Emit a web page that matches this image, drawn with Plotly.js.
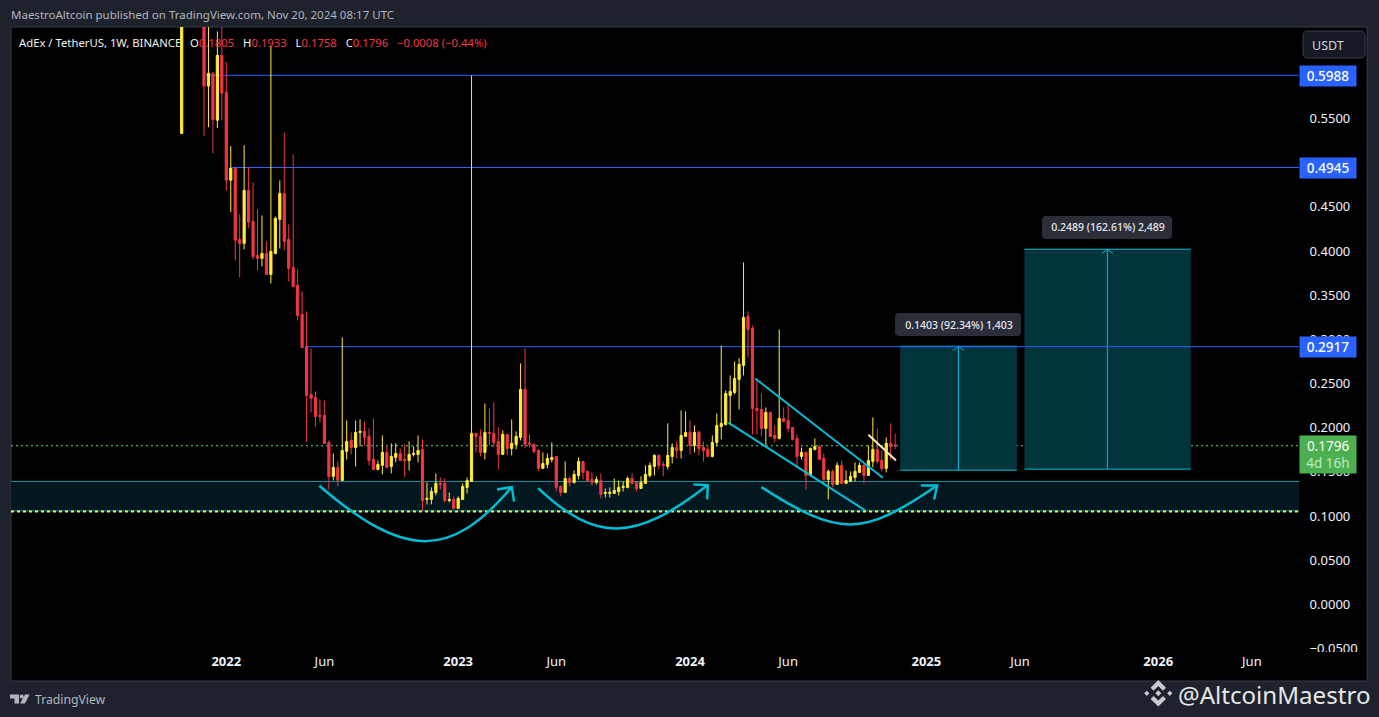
<!DOCTYPE html>
<html>
<head>
<meta charset="utf-8">
<script src="https://cdn.plot.ly/plotly-3.0.1.min.js"></script>
<style>html,body{margin:0;padding:0;background:#1e222d;}#chart{width:1379px;height:717px;}</style>
</head>
<body>
<div id="chart"></div>
<script>
// ---- candle values (weekly ADX/USDT) ----
const opens = [.533,
.74,.5866,.6010,.5481,.6214,.5795,.4802,.4935,.4131,.4086,.4686,.4335,.3950,.3916,.3973,.3735,.3973,.4358,.4652,.4131,
.3814,.3611,.3283,.2920,.2377,.2343,.2140,.2140,.1834,.1449,.1551,.1403,.1732,.1856,.1777,.1947,.1958,.1902,.1641,.1528,
.1574,.1721,.1562,.1664,.1709,.1641,.1630,.1698,.1698,.1755,.1189,.1189,.1268,.1370,.1370,.1177,.1189,.1087,.1189,.1325,
.1392,.1936,.1902,.1721,.1947,.1936,.1845,.1698,.1924,.1766,.1811,.1890,.2434,.1823,.1811,.1743,.1540,.1585,.1641,.1675,
.1336,.1268,.1426,.1381,.1460,.1619,.1506,.1415,.1381,.1403,.1257,.1257,.1257,.1279,.1325,.1325,.1426,.1381,.1313,.1370,
.1460,.1562,.1687,.1585,.1562,.1675,.1777,.1743,.1902,.1947,.1800,.1947,.1777,.1755,.1675,.1834,.2015,.2037,.2366,.2400,
.2547,.2705,.3260,.3124,.2219,.2207,.1992,.2173,.1913,.1879,.2105,.2083,.2004,.1879,.1675,.1721,.1460,.1755,.1789,.1653,
.1415,.1506,.1358,.1574,.1370,.1392,.1438,.1494,.1574,.1460,.1619,.1755,.1630,.1540,.1823,.1805];
const highs = [.72,
.80,.72,.6025,.6485,.70,.6138,.5187,.4957,.4414,.5195,.4946,.4776,.4471,.4403,.4109,.6327,.4392,.4799,.5342,.4301,
.5093,.3792,.3543,.3316,.2898,.2411,.2320,.2309,.1856,.1709,.1619,.3022,.2083,.1947,.2083,.2094,.2072,.1992,.2106,.1630,
.1913,.1800,.1823,.1823,.1766,.1811,.1845,.1789,.1913,.1868,.1381,.1325,.1483,.1438,.1426,.1268,.1223,.1223,.1370,.1438,
.5987,.1936,.1981,.2275,.2219,.2287,.2004,.1969,.1924,.2094,.1958,.2728,.2898,.1924,.1823,.1755,.1721,.1709,.1834,.1675,
.1347,.1619,.1449,.1517,.1664,.1619,.1517,.1494,.1449,.1483,.1313,.1325,.1426,.1403,.1392,.1449,.1483,.1392,.1449,.1574,
.1608,.1698,.1698,.1619,.2049,.1823,.1845,.2196,.2185,.2083,.2026,.1969,.1845,.1789,.1913,.2162,.2932,.2422,.2592,.2750,
.2785,.3871,.3316,.3158,.2536,.2388,.2230,.2185,.2026,.3113,.2230,.2264,.2004,.1924,.1777,.1732,.1777,.1879,.1800,.1709,
.1528,.1528,.1608,.1630,.1517,.1506,.1608,.1608,.1585,.1800,.2117,.1992,.1743,.1890,.2049,.1933];
const lows = [.533,
.5300,.5402,.5108,.5391,.5478,.4686,.4440,.3894,.3705,.4018,.4259,.3905,.3780,.3826,.3735,.3633,.3961,.4029,.4007,.3656,
.3588,.3215,.2898,.1837,.2173,.2015,.2060,.1823,.1302,.1403,.1336,.1403,.1641,.1698,.1562,.1789,.1800,.1574,.1517,.1517,
.1472,.1540,.1483,.1608,.1630,.1438,.1517,.1675,.1608,.1064,.1132,.1132,.1234,.1302,.1155,.1155,.1075,.1087,.1189,.1257,
.1392,.1721,.1675,.1641,.1800,.1777,.1528,.1698,.1687,.1687,.1755,.1856,.1766,.1777,.1709,.1506,.1540,.1540,.1608,.1279,
.1223,.1268,.1336,.1370,.1415,.1415,.1392,.1347,.1358,.1200,.1211,.1211,.1257,.1234,.1279,.1313,.1358,.1279,.1313,.1370,
.1438,.1460,.1528,.1449,.1528,.1596,.1653,.1653,.1902,.1698,.1721,.1687,.1619,.1675,.1664,.1789,.1868,.2026,.2026,.2377,
.2207,.2592,.2796,.1924,.1924,.1902,.1800,.1902,.1834,.1868,.2060,.1947,.1856,.1540,.1641,.1302,.1449,.1743,.1641,.1370,
.1189,.1325,.1358,.1370,.1370,.1392,.1392,.1494,.1370,.1460,.1551,.1596,.1506,.1494,.1641,.1758];
const closes = [.72,
.5866,.6010,.5489,.6214,.5787,.4802,.4938,.4123,.4086,.4686,.4327,.3939,.3916,.3973,.3735,.3995,.4369,.4652,.4109,.3803,
.3599,.3271,.2909,.2366,.2332,.2128,.2128,.1823,.1449,.1551,.1403,.1743,.1845,.1777,.1947,.1958,.1890,.1630,.1528,.1585,
.1721,.1551,.1675,.1709,.1630,.1630,.1698,.1709,.1743,.1177,.1200,.1279,.1370,.1358,.1177,.1189,.1087,.1200,.1336,.1403,
.1936,.1902,.1721,.1947,.1936,.1834,.1698,.1924,.1766,.1823,.1902,.2434,.1811,.1811,.1732,.1540,.1596,.1653,.1664,.1325,
.1268,.1426,.1381,.1472,.1619,.1494,.1403,.1381,.1415,.1245,.1268,.1268,.1291,.1325,.1336,.1426,.1370,.1313,.1381,.1472,
.1574,.1687,.1574,.1574,.1687,.1777,.1743,.1913,.1947,.1800,.1947,.1766,.1743,.1675,.1834,.2026,.2049,.2388,.2411,.2558,
.2717,.3248,.3113,.2219,.2196,.1992,.2173,.1902,.1879,.2105,.2072,.1992,.1868,.1675,.1721,.1460,.1766,.1789,.1641,.1415,
.1506,.1358,.1574,.1370,.1403,.1449,.1506,.1574,.1460,.1630,.1755,.1619,.1540,.1823,.1789,.1796];

// ---- axis labels ----
const priceTicks = [-0.05,0,0.05,0.1,0.15,0.2,0.25,0.3,0.35,0.4,0.45,0.5,0.55];
const priceTickText = ['\u22120.0500','0.0000','0.0500','0.1000','0.1500','0.2000','0.2500','0.3000','0.3500','0.4000','0.4500','0.5000','0.5500'];
const timeTicks = ['2022-01-03','2022-06-06','2023-01-02','2023-06-05','2024-01-01','2024-06-03','2025-01-06','2025-06-02','2026-01-05','2026-06-01'];
const timeTickText = ['<b>2022</b>','Jun','<b>2023</b>','Jun','<b>2024</b>','Jun','<b>2025</b>','Jun','<b>2026</b>','Jun'];

// ---- drawings: weeks since 2022-01-03, and price ----
// curved arrows: start, two control points, end
const curve1Week = [20.86,40.09,50.18,64.02];
const curve1Price = [.1344,.0510,.0510,.1328];
const head1Week = [60.72,64.02,64.54];
const head1Price = [.1302,.1328,.1166];
const curve2Week = [69.92,82.93,91.45,107.99];
const curve2Price = [.1317,.0702,.0702,.1351];
const head2Week = [104.76,107.99,107.83];
const head2Price = [.1358,.1351,.1189];
const curve3Week = [120.0,137.44,142.51,159.42];
const curve3Price = [.1328,.0762,.0762,.1347];
const head3Week = [155.76,159.42,158.75];
const head3Price = [.1347,.1347,.1189];
const channelUpperWeek = [118.6,147.24], channelUpperPrice = [.2558,.1434];
const channelLowerWeek = [112.6,143.27], channelLowerPrice = [.2057,.1064];
const breakWeek = [144.0,150.2], breakPrice = [.1921,.1630];
const target1 = {w0:151.12,w1:177.3,mid:164.2,p0:.1519,p1:.2922};
const target2 = {w0:179.0,w1:216.3,mid:197.6,p0:.1531,p1:.4020};
const levels = [{p:.5988,w:-4.55},{p:.4945,w:1.28},{p:.2917,w:18.1}];
const lastPrice = .1796, zoneTop = .1392, zoneBottom = .1059, zoneDash = .1053;

// ---- geometry helpers ----
const L=11,R=1299,T=27,B=652;
const fx=p=>(p-L)/(R-L), fy=p=>(B-p)/(B-T);
const DAY=864e5, base=Date.UTC(2022,0,3);
const wk=n=>new Date(base+n*7*DAY).toISOString();
const xStart='2021-01-30', xEnd='2026-08-14';

const dates=['2021-10-25'];
for(let i=0;i<156;i++){dates.push(new Date(Date.UTC(2021,10,29)+i*7*DAY).toISOString().slice(0,10));}

const TEAL='#00bcd4', BLUE='#2962ff', FONT='"Noto Sans", sans-serif';
const lineTrace=(w,p,color,width)=>({type:'scatter',mode:'lines',x:w.map(wk),y:p,hoverinfo:'skip',showlegend:false,line:{color,width}});

const data=[
 {type:'candlestick',x:dates,open:opens,high:highs,low:lows,close:closes,showlegend:false,hoverinfo:'skip',whiskerwidth:0,
  increasing:{line:{color:'#ffeb3b',width:1},fillcolor:'#ffeb3b'},
  decreasing:{line:{color:'#f23645',width:1},fillcolor:'#f23645'}},
 lineTrace(head1Week,head1Price,TEAL,2.5),
 lineTrace(head2Week,head2Price,TEAL,2.5),
 lineTrace(head3Week,head3Price,TEAL,2.5),
 lineTrace(channelUpperWeek,channelUpperPrice,TEAL,2),lineTrace(channelLowerWeek,channelLowerPrice,TEAL,2),
 lineTrace(breakWeek,breakPrice,'#ffe8c2',2)
];

// pixel-path helpers for page furniture
const P=(pts)=>'M'+pts.map(q=>fx(q[0])+','+fy(q[1])).join('L')+'Z';
const rr=(x0,y0,x1,y1,r)=>`M${fx(x0+r)},${fy(y0)}L${fx(x1-r)},${fy(y0)}Q${fx(x1)},${fy(y0)} ${fx(x1)},${fy(y0+r)}L${fx(x1)},${fy(y1-r)}Q${fx(x1)},${fy(y1)} ${fx(x1-r)},${fy(y1)}L${fx(x0+r)},${fy(y1)}Q${fx(x0)},${fy(y1)} ${fx(x0)},${fy(y1-r)}L${fx(x0)},${fy(y0+r)}Q${fx(x0)},${fy(y0)} ${fx(x0+r)},${fy(y0)}Z`;
const pathShape=(path,fill,layer,line)=>({type:'path',xref:'paper',yref:'paper',path,fillcolor:fill,layer:layer||'above',line:line||{width:0}});
const circ=(cx,cy,r)=>`M${fx(cx-r)},${fy(cy)}Q${fx(cx-r)},${fy(cy-r)} ${fx(cx)},${fy(cy-r)}Q${fx(cx+r)},${fy(cy-r)} ${fx(cx+r)},${fy(cy)}Q${fx(cx+r)},${fy(cy+r)} ${fx(cx)},${fy(cy+r)}Q${fx(cx-r)},${fy(cy+r)} ${fx(cx-r)},${fy(cy)}Z`;
const diamond=(cx,cy,r)=>P([[cx,cy-r],[cx+r,cy],[cx,cy+r],[cx-r,cy]]);
const dd=n=>wk(n).slice(0,19).replace('T','_');
const bezier=(w,p)=>({type:'path',xref:'x',yref:'y',layer:'above',line:{color:TEAL,width:2.5},
  path:`M${dd(w[0])},${p[0]}C${dd(w[1])},${p[1]} ${dd(w[2])},${p[2]} ${dd(w[3])},${p[3]}`});

const dataLine=(x0,x1,y0,y1,color,width,layer,dash)=>({type:'line',xref:'x',yref:'y',x0,x1,y0,y1,layer:layer||'below',line:{color,width,dash:dash||'solid'}});
const shapes=[];
// pane background
shapes.push({type:'rect',xref:'paper',yref:'paper',x0:fx(11),x1:fx(1367),y0:fy(27),y1:fy(681),fillcolor:'#000',layer:'below',line:{color:'#363a45',width:1}});
// support zone
shapes.push({type:'rect',xref:'paper',yref:'y',x0:0,x1:1,y0:zoneBottom,y1:zoneTop,fillcolor:'#02181e',layer:'below',line:{width:0}});
shapes.push({type:'line',xref:'paper',yref:'y',x0:0,x1:1,y0:zoneTop,y1:zoneTop,layer:'below',line:{color:'#1697a8',width:1}});
shapes.push({type:'line',xref:'paper',yref:'y',x0:0,x1:1,y0:zoneBottom,y1:zoneBottom,layer:'above',line:{color:'#1697a8',width:1}});
shapes.push({type:'line',xref:'paper',yref:'y',x0:0,x1:1,y0:zoneDash,y1:zoneDash,layer:'above',line:{color:'#ffeb3b',width:2,dash:'3px,3px'}});
// curved arrows
shapes.push(bezier(curve1Week,curve1Price),bezier(curve2Week,curve2Price),bezier(curve3Week,curve3Price));
// projection boxes
[target1,target2].forEach(t=>{
  shapes.push({type:'rect',xref:'x',yref:'y',x0:wk(t.w0),x1:wk(t.w1),y0:t.p0,y1:t.p1,fillcolor:'#02343c',layer:'below',line:{width:0}});
  shapes.push(dataLine(wk(t.w0),wk(t.w1),t.p0,t.p0,TEAL,1));
  shapes.push(dataLine(wk(t.w0),wk(t.w1),t.p1,t.p1,TEAL,1));
  shapes.push(dataLine(wk(t.mid),wk(t.mid),t.p0,t.p1,TEAL,1));
  shapes.push(dataLine(wk(t.mid-1.26),wk(t.mid),t.p1-.005,t.p1,TEAL,1));
  shapes.push(dataLine(wk(t.mid+1.26),wk(t.mid),t.p1-.005,t.p1,TEAL,1));
});
// horizontal levels
levels.forEach(l=>shapes.push(dataLine(wk(l.w),xEnd,l.p,l.p,BLUE,1)));
// last price
shapes.push({type:'line',xref:'paper',yref:'y',x0:0,x1:1,y0:lastPrice,y1:lastPrice,layer:'below',line:{color:'#66d966',width:1.2,dash:'2px,3px'}});
// clip of the lowest price label
shapes.push({type:'rect',xref:'paper',yref:'paper',x0:fx(1300),x1:fx(1366),y0:fy(652),y1:fy(660),fillcolor:'#000',layer:'above',line:{width:0}});
// measure tooltips
shapes.push(pathShape(rr(895,313,1021,336,4),'#2a2e39'));
shapes.push(pathShape(rr(1042,216,1172,239,4),'#2a2e39'));
// USDT button
shapes.push(pathShape(rr(1303,31,1365,58,5),'#151924','above',{color:'#3a3e4a',width:1}));
// TradingView mark
shapes.push(pathShape(P([[10,694.5],[19,694.5],[19,703.5],[14.5,703.5],[14.5,698.5],[10,698.5]]),'#b2b5be'));
shapes.push(pathShape(circ(21.7,696.5,2),'#b2b5be'));
shapes.push(pathShape(P([[25,694.5],[29.5,694.5],[25,703.5],[20,703.5]]),'#b2b5be'));
// diamond mark of the watermark
const cx=1158.3, cy=693.3, mk='#c9cbd0';
shapes.push(pathShape(P([[cx,680],[cx+7.7,687.7],[cx+4.7,690.7],[cx,686],[cx-4.7,690.7],[cx-7.7,687.7]]),mk));
shapes.push(pathShape(P([[cx,2*cy-680],[cx+7.7,2*cy-687.7],[cx+4.7,2*cy-690.7],[cx,2*cy-686],[cx-4.7,2*cy-690.7],[cx-7.7,2*cy-687.7]]),mk));
shapes.push(pathShape(diamond(cx,cy,3),mk));
shapes.push(pathShape(diamond(cx-11.5,cy,2.6),mk));
shapes.push(pathShape(diamond(cx+11.5,cy,2.6),mk));

const ann=(px,py,text,size,color,extra)=>Object.assign({xref:'paper',yref:'paper',x:fx(px),y:fy(py),text,showarrow:false,xanchor:'left',yanchor:'middle',borderpad:0,
  font:{family:FONT,size,color}},extra||{});
const red=s=>`<span style="color:#f23645">${s}</span>`;
const gap='\u00a0\u00a0\u00a0';
const priceBox=(py,text)=>ann(1299,py,text,13.5,'#ffffff',{bgcolor:BLUE,width:56,height:20,align:'center',font:{family:FONT,size:13.5,color:'#fff',weight:500}});
const annotations=[
 ann(10,15,'MaestroAltcoin published on TradingView.com, Nov 20, 2024 08:17 UTC',11.5,'#b2b5be'),
 ann(18,42,`AdEx / TetherUS, 1W, BINANCE${gap}O${red('0.1805')}${gap}H${red('0.1933')}${gap}L${red('0.1758')}${gap}C${red('0.1796')}${gap}${red('\u22120.0008 (\u22120.44%)')}`,11.3,'#f0f0f0'),
 priceBox(76,'0.5988'),priceBox(168,'0.4945'),priceBox(347,'0.2917'),
 ann(1299,454.5,'0.1796<br><span style="color:#c3e6c5">4d 16h</span>',13.5,'#fff',{bgcolor:'#4caf50',width:56,height:37,align:'center'}),
 ann(1311,45,'USDT',12.5,'#d1d4dc'),
 ann(895,324.5,'0.1403 (92.34%) 1,403',10.5,'#e8e8ec',{width:126,height:20,align:'center',font:{family:FONT,size:10.5,color:'#e8e8ec',weight:500}}),
 ann(1042,227.5,'0.2489 (162.61%) 2,489',10.5,'#e8e8ec',{width:130,height:20,align:'center',font:{family:FONT,size:10.5,color:'#e8e8ec',weight:500}}),
 ann(34,699,'TradingView',12.2,'#b2b5be'),
 ann(1177,694,'@AltcoinMaestro',24.1,'#e6e6e6')
];

const layout={
 width:1379,height:717,paper_bgcolor:'#1e222d',plot_bgcolor:'#000',showlegend:false,hovermode:false,
 margin:{l:L,r:1379-R,t:T,b:717-B,pad:0},
 xaxis:{type:'date',range:[xStart,xEnd],rangeslider:{visible:false},showgrid:false,zeroline:false,showline:false,
   tickmode:'array',tickvals:timeTicks,ticktext:timeTickText,ticks:'',ticklen:0,
   tickfont:{family:FONT,size:13,color:'#f0f3fa'}},
 yaxis:{range:[-.0538,.6535],side:'right',showgrid:false,zeroline:false,showline:false,
   tickmode:'array',tickvals:priceTicks,ticktext:priceTickText,ticks:'outside',ticklen:7,tickcolor:'rgba(0,0,0,0)',
   tickfont:{family:FONT,size:13,color:'#f0f3fa'}},
 shapes,annotations
};
Plotly.newPlot('chart',data,layout,{displayModeBar:false,staticPlot:true});
</script>
</body>
</html>
